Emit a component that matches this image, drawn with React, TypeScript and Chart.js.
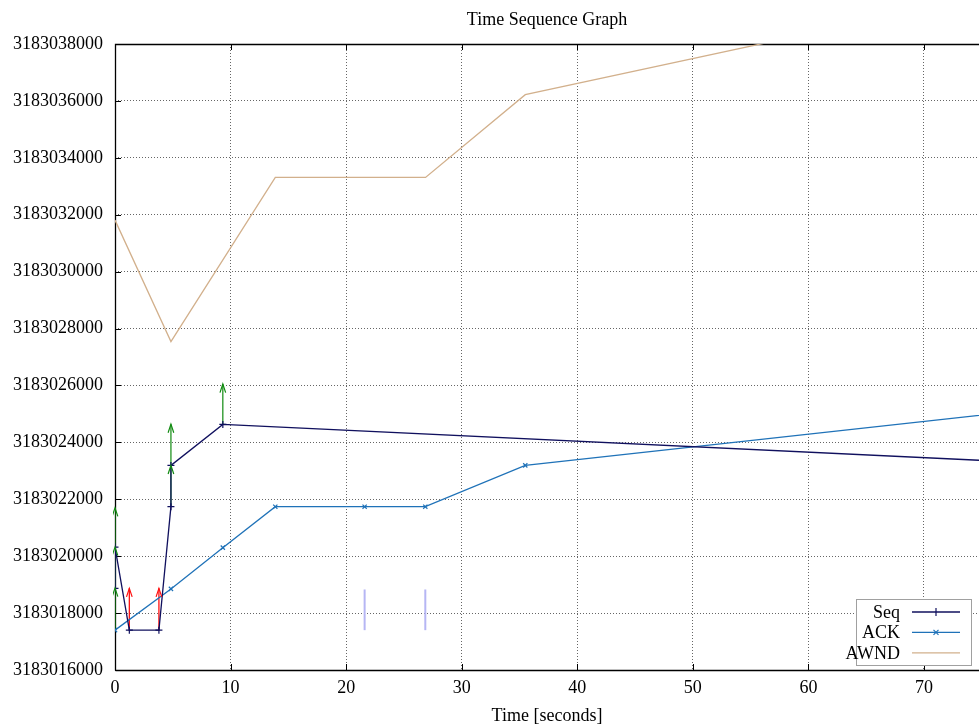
import React, { useEffect, useRef } from "react";
import { Chart, registerables } from "chart.js";
Chart.register(...registerables);

// ---- data ----
const chartTitle = "Time Sequence Graph";
const xAxisTitle = "Time [seconds]";
const xMin = 0;
const xMax = 74.76;
const yMin = 3183016000;
const yMax = 3183038000;
const yStep = 2000;
const xTickValues = [0, 10, 20, 30, 40, 50, 60, 70];

const seqTimes = [0, 0, 1.24, 3.8, 4.84, 4.84, 9.33, 80];
const seqValues = [3183018870, 3183020320, 3183017400, 3183017400, 3183021740, 3183023190, 3183024630, 3183023270];

const ackTimes = [0, 4.84, 9.33, 13.87, 21.6, 26.85, 35.5, 80];
const ackValues = [3183017400, 3183018850, 3183020300, 3183021740, 3183021740, 3183021740, 3183023190, 3183025180];

const awndTimes = [0, 4.84, 13.87, 26.87, 35.5, 80];
const awndValues = [3183031810, 3183027540, 3183033310, 3183033310, 3183036220, 3183040110];

// [time, from, to]
const windowArrows = [
  [0, 3183017400, 3183018880],
  [0, 3183018880, 3183020320],
  [0, 3183020320, 3183021700],
  [4.84, 3183021740, 3183023190],
  [4.84, 3183023190, 3183024640],
  [9.33, 3183024630, 3183026050],
];
const retransArrows = [
  [1.24, 3183017400, 3183018870],
  [3.8, 3183017400, 3183018870],
];
const sackMarks = [
  [21.6, 3183017400, 3183018830],
  [26.85, 3183017400, 3183018830],
];

const seriesNames = ["Seq", "ACK", "AWND"];
const seriesColors = ["#10105e", "#1f72b8", "#d2b08c"];

const FONT = "'Liberation Serif', 'DejaVu Serif', serif";

function pts(xs: number[], ys: number[]) {
  return xs.map((x, i) => ({ x, y: ys[i] }));
}

function segDatasets(list: number[][], color: string, width: number, kind: string) {
  return list.map((a) => ({
    label: "",
    data: [
      { x: a[0], y: a[1] },
      { x: a[0], y: a[2] },
    ],
    borderColor: color,
    backgroundColor: color,
    borderWidth: width,
    pointRadius: 0,
    showLine: true,
    segKind: kind,
  }));
}

const framePlugin = {
  id: "frame",
  beforeDatasetsDraw(chart: any) {
    const { ctx, chartArea: a, scales } = chart;
    ctx.save();
    ctx.strokeStyle = "#000";
    ctx.lineWidth = 1;
    // inward tick marks
    const tl = 6;
    ctx.beginPath();
    scales.x.ticks.forEach((t: any) => {
      const px = Math.round(scales.x.getPixelForValue(t.value)) + 0.5;
      ctx.moveTo(px, a.bottom);
      ctx.lineTo(px, a.bottom - tl);
      ctx.moveTo(px, a.top);
      ctx.lineTo(px, a.top + tl);
    });
    scales.y.ticks.forEach((t: any) => {
      const py = Math.round(scales.y.getPixelForValue(t.value)) + 0.5;
      ctx.moveTo(a.left, py);
      ctx.lineTo(a.left + tl, py);
    });
    ctx.stroke();
    ctx.lineWidth = 1.3;
    ctx.beginPath();
    ctx.moveTo(Math.round(a.left) + 0.5, Math.round(a.bottom) + 0.5);
    ctx.lineTo(Math.round(a.left) + 0.5, Math.round(a.top) + 0.5);
    ctx.lineTo(a.right, Math.round(a.top) + 0.5);
    ctx.moveTo(Math.round(a.left) + 0.5, Math.round(a.bottom) + 0.5);
    ctx.lineTo(a.right, Math.round(a.bottom) + 0.5);
    ctx.stroke();
    ctx.restore();
  },
};

const arrowPlugin = {
  id: "arrowHeads",
  afterDatasetsDraw(chart: any) {
    const { ctx } = chart;
    ctx.save();
    ctx.beginPath();
    ctx.rect(chart.chartArea.left - 2, chart.chartArea.top, chart.chartArea.width + 2, chart.chartArea.height);
    ctx.clip();
    chart.data.datasets.forEach((ds: any, i: number) => {
      if (ds.segKind !== "arrow") return;
      const meta = chart.getDatasetMeta(i);
      const p0 = meta.data[0];
      const p1 = meta.data[1];
      if (!p0 || !p1) return;
      const ang = Math.atan2(p1.y - p0.y, p1.x - p0.x);
      const len = 9;
      const spread = 0.32;
      ctx.strokeStyle = ds.borderColor;
      ctx.fillStyle = ds.borderColor;
      ctx.lineWidth = 1.2;
      ctx.beginPath();
      ctx.moveTo(p1.x - len * Math.cos(ang - spread), p1.y - len * Math.sin(ang - spread));
      ctx.lineTo(p1.x, p1.y);
      ctx.lineTo(p1.x - len * Math.cos(ang + spread), p1.y - len * Math.sin(ang + spread));
      ctx.stroke();
    });
    ctx.restore();
  },
};

const legendPlugin = {
  id: "gpLegend",
  afterDraw(chart: any) {
    const { ctx, chartArea: a } = chart;
    const boxRight = a.right - 8;
    const boxBottom = a.bottom - 5;
    const boxW = 115;
    const boxH = 66;
    const left = boxRight - boxW;
    const top = boxBottom - boxH;
    ctx.save();
    ctx.fillStyle = "#fff";
    ctx.fillRect(left, top, boxW, boxH);
    ctx.strokeStyle = "#a0a0a0";
    ctx.lineWidth = 1;
    ctx.strokeRect(Math.round(left) + 0.5, Math.round(top) + 0.5, boxW, boxH);
    ctx.font = "18px " + FONT;
    ctx.textAlign = "right";
    ctx.textBaseline = "middle";
    seriesNames.forEach((name, i) => {
      const cy = top + 13 + 20.4 * i;
      ctx.fillStyle = "#000";
      ctx.fillText(name, left + 44, cy + 1);
      ctx.strokeStyle = seriesColors[i];
      ctx.lineWidth = 1.3;
      ctx.beginPath();
      ctx.moveTo(left + 56, cy);
      ctx.lineTo(left + 104, cy);
      ctx.stroke();
      const mx = left + 80;
      ctx.lineWidth = 1.2;
      ctx.beginPath();
      if (i === 0) {
        ctx.moveTo(mx, cy - 4);
        ctx.lineTo(mx, cy + 4);
      } else if (i === 1) {
        ctx.moveTo(mx - 2.5, cy - 2.5);
        ctx.lineTo(mx + 2.5, cy + 2.5);
        ctx.moveTo(mx - 2.5, cy + 2.5);
        ctx.lineTo(mx + 2.5, cy - 2.5);
      }
      ctx.stroke();
    });
    ctx.restore();
  },
};

export default function App() {
  const ref = useRef<HTMLCanvasElement | null>(null);
  useEffect(() => {
    if (!ref.current) return;
    const datasets: any[] = [
      {
        label: seriesNames[0],
        data: pts(seqTimes, seqValues),
        borderColor: seriesColors[0],
        backgroundColor: seriesColors[0],
        borderWidth: 1.3,
        pointStyle: "cross",
        pointRadius: 3.5,
        pointBorderWidth: 1.2,
        showLine: true,
      },
      {
        label: seriesNames[1],
        data: pts(ackTimes, ackValues),
        borderColor: seriesColors[1],
        backgroundColor: seriesColors[1],
        borderWidth: 1.3,
        pointStyle: "crossRot",
        pointRadius: 3,
        pointBorderWidth: 1.2,
        showLine: true,
      },
      {
        label: seriesNames[2],
        data: pts(awndTimes, awndValues),
        borderColor: seriesColors[2],
        backgroundColor: seriesColors[2],
        borderWidth: 1.3,
        pointRadius: 0,
        showLine: true,
      },
      ...segDatasets(windowArrows, "#108a10", 1.2, "arrow"),
      ...segDatasets(retransArrows, "#ff1010", 1.3, "arrow"),
      ...segDatasets(sackMarks, "#b6b6f4", 2, "line"),
    ];
    const chart = new Chart(ref.current, {
      type: "scatter",
      data: { datasets },
      options: {
        animation: false,
        responsive: false,
        devicePixelRatio: 1,
        events: [],
        layout: { padding: 0, autoPadding: false },
        plugins: {
          legend: { display: false },
          tooltip: { enabled: false },
          title: {
            display: true,
            fullSize: false,
            text: chartTitle,
            color: "#000",
            font: { family: FONT, size: 18, weight: "normal" },
            padding: { top: 9, bottom: 13.4 },
          },
        },
        scales: {
          x: {
            type: "linear",
            min: xMin,
            max: xMax,
            afterBuildTicks: (axis: any) => {
              axis.ticks = xTickValues.map((v) => ({ value: v }));
            },
            afterFit: (axis: any) => {
              axis.height = 58;
            },
            ticks: {
              color: "#000",
              font: { family: FONT, size: 18 },
              padding: 7,
              maxRotation: 0,
              callback: (v: any) => String(v),
            },
            grid: { color: "rgba(0,0,0,0.6)", drawTicks: false, tickLength: 0 },
            border: { display: false, dash: [1, 2] },
            title: {
              display: true,
              text: xAxisTitle,
              color: "#000",
              font: { family: FONT, size: 18 },
              padding: { top: 0, bottom: 1 },
            },
          },
          y: {
            type: "linear",
            min: yMin,
            max: yMax,
            afterFit: (axis: any) => {
              axis.width = 115;
            },
            ticks: {
              stepSize: yStep,
              color: "#000",
              font: { family: FONT, size: 18 },
              padding: 12,
              callback: (v: any) => String(Math.round(Number(v))),
            },
            grid: { color: "rgba(0,0,0,0.6)", drawTicks: false, tickLength: 0 },
            border: { display: false, dash: [1, 2] },
          },
        },
      } as any,
      plugins: [framePlugin, arrowPlugin, legendPlugin],
    });
    return () => chart.destroy();
  }, []);
  return (
    <div style={{ position: "absolute", left: 0, top: 0, width: 979, height: 728, background: "#fff" }}>
      <canvas ref={ref} width={979} height={728} style={{ display: "block" }} />
    </div>
  );
}
